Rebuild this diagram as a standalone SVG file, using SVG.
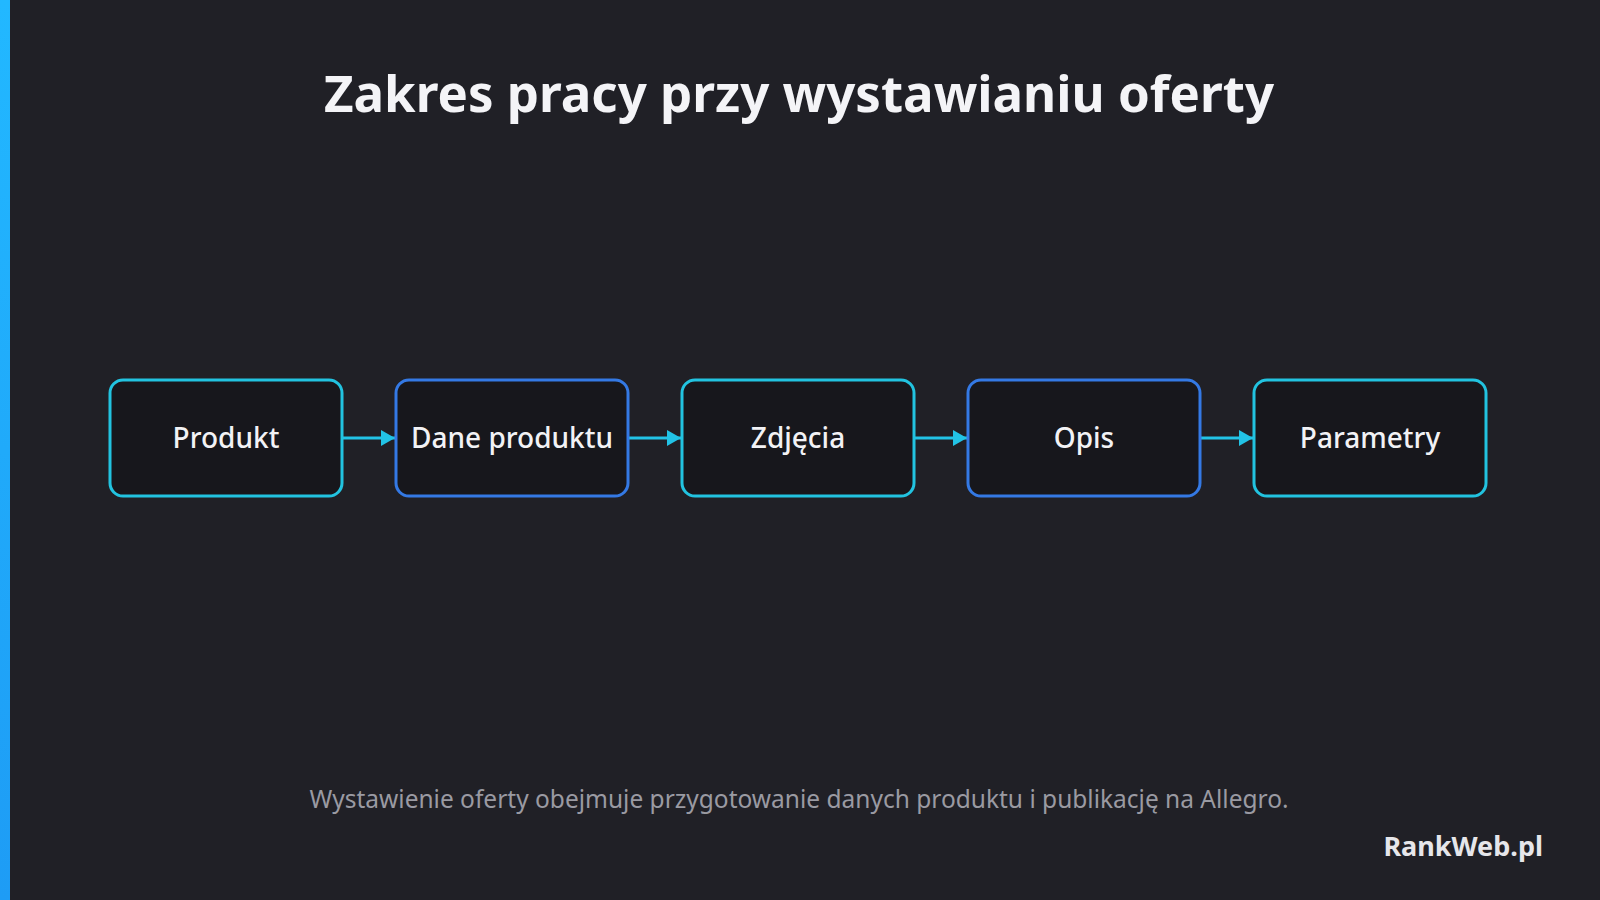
<svg xmlns="http://www.w3.org/2000/svg" width="1600" height="900" viewBox="0 0 1600 900">
<defs>
<linearGradient id="bar" x1="0" y1="0" x2="0" y2="1">
<stop offset="0" stop-color="#22b8ff"/>
<stop offset="1" stop-color="#1e9cf5"/>
</linearGradient>
<marker id="ah" viewBox="0 0 14 16" refX="14" refY="8" markerWidth="14" markerHeight="16" markerUnits="userSpaceOnUse" orient="auto">
<path d="M0,0 L14,8 L0,16 Z" fill="#22c3e6"/>
</marker>
</defs>
<style>
.box{fill:#17171c;stroke-width:3}
.c{stroke:#22c3e0}
.b{stroke:#3479e4}
.lbl{font-family:"Noto Sans","Open Sans","Liberation Sans",sans-serif;font-size:28px;font-weight:500;fill:#f2f2f5;text-anchor:middle;dominant-baseline:central}
.conn{stroke:#22c3e6;stroke-width:3;fill:none}
</style>
<rect width="1600" height="900" fill="#202026"/>
<rect x="0" y="0" width="10" height="900" fill="url(#bar)"/>
<text x="799" y="112" font-family="'Noto Sans','Open Sans','Liberation Sans',sans-serif" font-size="51" font-weight="700" fill="#f4f4f7" text-anchor="middle">Zakres pracy przy wystawianiu oferty</text>
<g id="connectors">
<line class="conn" x1="343" y1="438" x2="395" y2="438" marker-end="url(#ah)"/>
<line class="conn" x1="629" y1="438" x2="681" y2="438" marker-end="url(#ah)"/>
<line class="conn" x1="915" y1="438" x2="967" y2="438" marker-end="url(#ah)"/>
<line class="conn" x1="1201" y1="438" x2="1253" y2="438" marker-end="url(#ah)"/>
</g>
<g id="n1"><rect class="box c" x="110" y="380" width="232" height="116" rx="13"/><text class="lbl" x="226" y="437">Produkt</text></g>
<g id="n2"><rect class="box b" x="396" y="380" width="232" height="116" rx="13"/><text class="lbl" x="512" y="437">Dane produktu</text></g>
<g id="n3"><rect class="box c" x="682" y="380" width="232" height="116" rx="13"/><text class="lbl" x="798" y="437">Zdjęcia</text></g>
<g id="n4"><rect class="box b" x="968" y="380" width="232" height="116" rx="13"/><text class="lbl" x="1084" y="437">Opis</text></g>
<g id="n5"><rect class="box c" x="1254" y="380" width="232" height="116" rx="13"/><text class="lbl" x="1370" y="437">Parametry</text></g>
<text x="799" y="808" font-family="'Noto Sans','Open Sans','Liberation Sans',sans-serif" font-size="24.5" fill="#9a9aa2" text-anchor="middle">Wystawienie oferty obejmuje przygotowanie danych produktu i publikację na Allegro.</text>
<text x="1543" y="856" font-family="'Noto Sans','Open Sans','Liberation Sans',sans-serif" font-size="27" font-weight="700" fill="#e6e6ea" text-anchor="end">RankWeb.pl</text>
</svg>
